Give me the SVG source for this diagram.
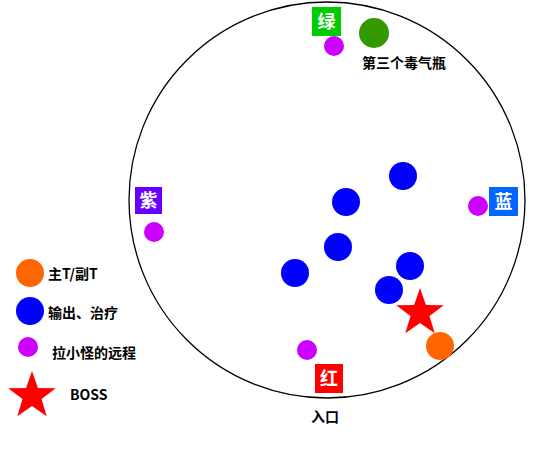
<svg xmlns="http://www.w3.org/2000/svg" xmlns:xlink="http://www.w3.org/1999/xlink" width="550" height="450" viewBox="0 0 550 450">
<style>
.t{font-family:"Noto Sans CJK SC","Liberation Sans",sans-serif;font-weight:bold;font-size:14px;fill:#000}
.lb{font-family:"Noto Sans CJK SC","Liberation Sans",sans-serif;font-weight:bold;font-size:18px;fill:#fff;text-anchor:middle}
.blue{fill:#0000ff}
.orange{fill:#ff6600}
.purple{fill:#cc00ff}
.red{fill:#ff0000}
</style>
<defs>
<polygon id="star" points="0,-25 5.88,-8.09 23.78,-7.73 9.51,3.09 14.69,20.23 0,10 -14.69,20.23 -9.51,3.09 -23.78,-7.73 -5.88,-8.09"/>
</defs>
<rect width="550" height="450" fill="#fff"/>
<g id="arena">
<circle cx="327" cy="200" r="198" fill="none" stroke="#000" stroke-width="1.3"/>
</g>
<g id="connectors"></g>
<g id="label-green">
<rect x="312" y="7" width="29" height="29" fill="#00cc00"/>
<text class="lb" x="326.5" y="28">绿</text>
</g>
<g id="label-purple">
<rect x="135" y="187" width="27" height="27" fill="#6600ff"/>
<text class="lb" x="148.5" y="207">紫</text>
</g>
<g id="label-blue">
<rect x="489" y="187" width="29" height="29" fill="#0066ff"/>
<text class="lb" x="503.5" y="208">蓝</text>
</g>
<g id="label-red">
<rect x="315" y="364" width="28" height="29" fill="#ff0000"/>
<text class="lb" x="329" y="385">红</text>
</g>
<g id="poison">
<circle cx="374" cy="33" r="15" fill="#339900"/>
<text class="t" x="362" y="68">第三个毒气瓶</text>
</g>
<g id="entrance">
<text class="t" x="311" y="422">入口</text>
</g>
<g id="ranged">
<circle class="purple" cx="334" cy="46" r="10"/>
<circle class="purple" cx="154" cy="232" r="10"/>
<circle class="purple" cx="478" cy="206" r="10"/>
<circle class="purple" cx="307" cy="350" r="10"/>
</g>
<g id="dps">
<circle class="blue" cx="403" cy="176" r="14"/>
<circle class="blue" cx="346" cy="202" r="14"/>
<circle class="blue" cx="338" cy="247" r="14"/>
<circle class="blue" cx="295" cy="273" r="14"/>
<circle class="blue" cx="410" cy="266" r="14"/>
<circle class="blue" cx="389" cy="290" r="14"/>
</g>
<g id="boss">
<use xlink:href="#star" href="#star" class="red" transform="translate(420,313)"/>
</g>
<g id="tank">
<circle class="orange" cx="440" cy="346" r="14"/>
</g>
<g id="legend">
<circle class="orange" cx="30" cy="273" r="14"/>
<text class="t" x="48" y="279">主T/副T</text>
<circle class="blue" cx="30" cy="311" r="14"/>
<text class="t" x="48" y="318">输出、治疗</text>
<circle class="purple" cx="28" cy="347" r="10"/>
<text class="t" x="52" y="358">拉小怪的远程</text>
<use xlink:href="#star" href="#star" class="red" transform="translate(32,396)"/>
<text class="t" x="70" y="400">BOSS</text>
</g>
</svg>
